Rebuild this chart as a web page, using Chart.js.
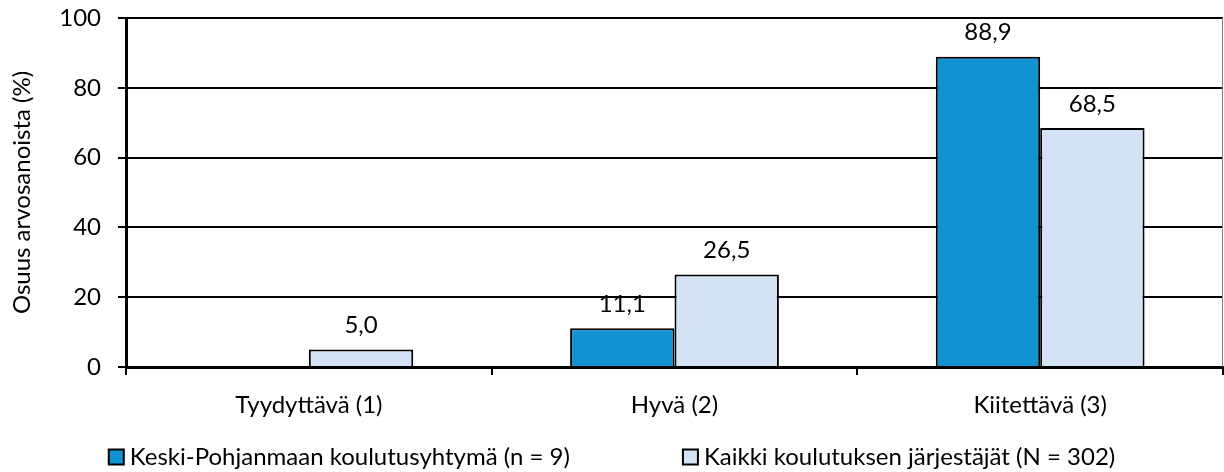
<!DOCTYPE html>
<html><head><meta charset="utf-8">
<script src="https://cdn.jsdelivr.net/npm/chart.js@4/dist/chart.umd.min.js"></script>
<style>html,body{margin:0;padding:0;background:#fff}#wrap{width:1224px;height:472px}</style>
</head><body><div id="wrap"><canvas id="c" width="1224" height="472"></canvas></div>
<script>
const categories = ["Tyydyttävä (1)", "Hyvä (2)", "Kiitettävä (3)"];
const seriesNames = ["Keski-Pohjanmaan koulutusyhtymä (n = 9)", "Kaikki koulutuksen järjestäjät (N = 302)"];
const keskiPohjanmaa = [null, 11.1, 88.9];
const kaikki = [5.0, 26.5, 68.5];
const yTicks = [0, 20, 40, 60, 80, 100];
const colors = ["#1192D2", "#D3E2F4"];
const FONT = "Lato, 'Open Sans', sans-serif";
const FS = 24;

const labelPlugin = {
  id: 'labels',
  afterDatasetsDraw(chart) {
    const ctx = chart.ctx;
    ctx.save();
    ctx.font = FS + "px " + FONT;
    ctx.fillStyle = "#000";
    ctx.textAlign = "center";
    ctx.textBaseline = "middle";
    chart.data.datasets.forEach((ds, i) => {
      const meta = chart.getDatasetMeta(i);
      meta.data.forEach((bar, j) => {
        const v = ds.data[j];
        if (v === null || v === undefined) return;
        ctx.fillText(v.toFixed(1).replace('.', ','), bar.x, bar.y - 24);
      });
    });
    const a = chart.chartArea;
    ctx.strokeStyle = "#808080"; ctx.lineWidth = 1;
    ctx.beginPath(); ctx.moveTo(a.right - 0.5, a.top); ctx.lineTo(a.right - 0.5, a.bottom); ctx.stroke();
    // legend
    ctx.textAlign = "left";
    const box = 15, gapBox = 6, itemGap = 113;
    const widths = seriesNames.map(n => box + gapBox + ctx.measureText(n).width);
    const total = widths.reduce((s, w) => s + w, 0) + itemGap * (widths.length - 1);
    let x = 612 - total / 2;
    const y = 457;
    seriesNames.forEach((n, i) => {
      ctx.fillStyle = colors[i];
      ctx.fillRect(x, y - box / 2, box, box);
      ctx.strokeStyle = "#000"; ctx.lineWidth = 2;
      ctx.strokeRect(x, y - box / 2, box, box);
      ctx.fillStyle = "#000";
      ctx.fillText(n, x + box + gapBox, y);
      x += widths[i] + itemGap;
    });
    ctx.restore();
  }
};

new Chart(document.getElementById('c'), {
  type: 'bar',
  data: {
    labels: categories,
    datasets: [
      { label: seriesNames[0], data: keskiPohjanmaa, backgroundColor: colors[0], borderColor: "#000", borderWidth: 2 },
      { label: seriesNames[1], data: kaikki, backgroundColor: colors[1], borderColor: "#000", borderWidth: 2 }
    ]
  },
  options: {
    responsive: false,
    animation: false,
    devicePixelRatio: 1,
    layout: { padding: { top: 18, right: 1, bottom: 0, left: 0 } },
    datasets: { bar: { categoryPercentage: 0.571, barPercentage: 1.0 } },
    plugins: { legend: { display: false }, tooltip: { enabled: false } },
    scales: {
      x: {
        offset: true,
        grid: { display: true, drawOnChartArea: false, offset: true, color: "#000", lineWidth: 2, tickLength: 8 },
        border: { display: true, color: "#000", width: 3 },
        ticks: { color: "#000", font: { family: FONT, size: FS }, padding: 16, maxRotation: 0 },
        afterFit(s) { s.height = 105; }
      },
      y: {
        min: 0, max: 100,
        afterBuildTicks(s) { s.ticks = yTicks.map(v => ({ value: v })); },
        grid: { color: "#000", lineWidth: 2, tickLength: 8 },
        border: { display: true, color: "#000", width: 3 },
        ticks: { color: "#000", font: { family: FONT, size: FS }, padding: 17 },
        title: { display: true, text: "Osuus arvosanoista (%)", color: "#000", font: { family: FONT, size: FS }, padding: { top: 8, bottom: 0 } },
        afterFit(s) { s.width = 126; s.paddingTop = 0; s.paddingBottom = 0; }
      }
    }
  },
  plugins: [labelPlugin]
});
</script></body></html>
